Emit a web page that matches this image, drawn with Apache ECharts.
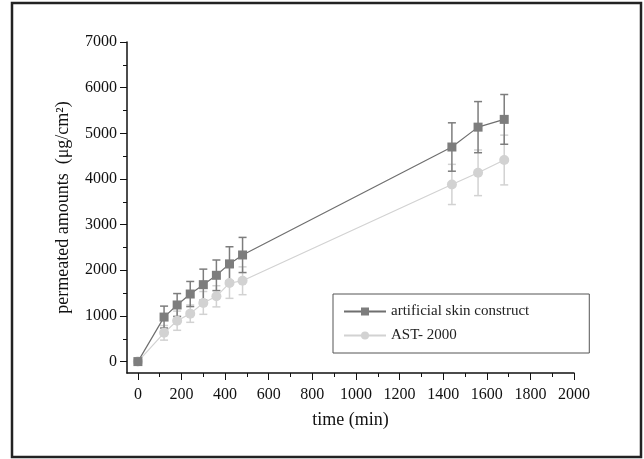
<!DOCTYPE html>
<html>
<head>
<meta charset="utf-8">
<script src="https://cdn.jsdelivr.net/npm/echarts@6/dist/echarts.min.js"></script>
<style>
  html, body { margin: 0; padding: 0; background: #fff; }
  #chart { width: 644px; height: 459px; }
</style>
</head>
<body>
<div id="chart"></div>
<script>
// sampling times (min)
const times = [0, 120, 180, 240, 300, 360, 420, 480, 1440, 1560, 1680];

// artificial skin construct
const skinMean = [0, 975, 1240, 1480, 1685, 1890, 2140, 2335, 4700, 5135, 5305];
const skinErr = [0, 240, 250, 275, 340, 335, 375, 385, 530, 560, 545];

// AST-2000
const astMean = [0, 630, 895, 1050, 1285, 1430, 1720, 1770, 3880, 4135, 4415];
const astErr = [0, 160, 210, 190, 250, 232, 335, 305, 440, 500, 545];

const xMajor = [0, 200, 400, 600, 800, 1000, 1200, 1400, 1600, 1800, 2000];
const xMinor = [100, 300, 500, 700, 900, 1100, 1300, 1500, 1700, 1900];
const yMajor = [0, 1000, 2000, 3000, 4000, 5000, 6000, 7000];
const yMinor = [500, 1500, 2500, 3500, 4500, 5500, 6500];

const FONT = '"Liberation Serif", "DejaVu Serif", serif';
const DARK = '#7d7d7d';
const LIGHT = '#d2d2d2';

const toPairs = (xs, ys) => xs.map((x, i) => [x, ys[i]]);
const toErr = (xs, ys, es) => xs.map((x, i) => [x, ys[i] - es[i], ys[i] + es[i]]);

const errorSeries = (data, color) => ({
  type: 'custom',
  data: data,
  z: 1,
  silent: true,
  renderItem: (params, api) => {
    const x = api.value(0);
    const lo = api.coord([x, api.value(1)]);
    const hi = api.coord([x, api.value(2)]);
    const cap = 4;
    const style = { stroke: color, lineWidth: 1.5 };
    return {
      type: 'group',
      children: [
        { type: 'line', shape: { x1: lo[0], y1: lo[1], x2: hi[0], y2: hi[1] }, style: style },
        { type: 'line', shape: { x1: lo[0] - cap, y1: lo[1], x2: lo[0] + cap, y2: lo[1] }, style: style },
        { type: 'line', shape: { x1: hi[0] - cap, y1: hi[1], x2: hi[0] + cap, y2: hi[1] }, style: style },
      ],
    };
  },
});

const chart = echarts.init(document.getElementById('chart'));

const axisText = { fontFamily: FONT, fontSize: 16, color: '#111' };
const nameText = { fontFamily: FONT, fontSize: 18, color: '#111' };
const plain = (v) => String(v);

const option = {
  animation: false,
  textStyle: { fontFamily: FONT },
  grid: { left: 127, right: 70, top: 42, bottom: 86 },
  legend: {
    data: ['artificial skin construct', 'AST- 2000'],
    orient: 'vertical',
    left: 333,
    top: 294,
    width: 228,
    padding: [10, 60, 10, 10],
    itemGap: 9,
    itemWidth: 42,
    itemHeight: 10,
    borderColor: '#555',
    borderWidth: 1,
    textStyle: { fontFamily: FONT, fontSize: 15, color: '#222' },
  },
  xAxis: [
    {
      type: 'value',
      min: -50,
      max: 2000,
      name: 'time (min)',
      nameLocation: 'middle',
      nameGap: 38,
      nameTextStyle: nameText,
      splitLine: { show: false },
      axisLine: { show: true, onZero: false, lineStyle: { color: '#111', width: 1.5 } },
      axisTick: { show: true, length: 7, customValues: xMajor, lineStyle: { color: '#111', width: 1 } },
      axisLabel: { customValues: xMajor, margin: 14, formatter: plain, ...axisText },
    },
    {
      type: 'value',
      min: -50,
      max: 2000,
      position: 'bottom',
      splitLine: { show: false },
      axisLine: { show: false, onZero: false },
      axisTick: { show: true, length: 4, customValues: xMinor, lineStyle: { color: '#111', width: 1 } },
      axisLabel: { show: false },
    },
  ],
  yAxis: [
    {
      type: 'value',
      min: -250,
      max: 7000,
      name: 'permeated amounts  (μg/cm²)',
      nameLocation: 'middle',
      nameGap: 55,
      nameTextStyle: nameText,
      splitLine: { show: false },
      axisLine: { show: true, onZero: false, lineStyle: { color: '#111', width: 1.5 } },
      axisTick: { show: true, length: 7, customValues: yMajor, lineStyle: { color: '#111', width: 1 } },
      axisLabel: { customValues: yMajor, margin: 10, formatter: plain, ...axisText },
    },
    {
      type: 'value',
      min: -250,
      max: 7000,
      position: 'left',
      splitLine: { show: false },
      axisLine: { show: false, onZero: false },
      axisTick: { show: true, length: 4, customValues: yMinor, lineStyle: { color: '#111', width: 1 } },
      axisLabel: { show: false },
    },
  ],
  series: [
    errorSeries(toErr(times, astMean, astErr), LIGHT),
    errorSeries(toErr(times, skinMean, skinErr), DARK),
    {
      name: 'AST- 2000',
      type: 'line',
      data: toPairs(times, astMean),
      symbol: 'circle',
      symbolSize: 10,
      z: 3,
      itemStyle: { color: LIGHT },
      lineStyle: { color: LIGHT, width: 1.2 },
    },
    {
      name: 'artificial skin construct',
      type: 'line',
      data: toPairs(times, skinMean),
      symbol: 'rect',
      symbolSize: 9,
      z: 4,
      itemStyle: { color: DARK },
      lineStyle: { color: '#6f6f6f', width: 1.2 },
    },
  ],
  graphic: [
    {
      type: 'rect',
      shape: { x: 12, y: 3, width: 629, height: 454 },
      style: { fill: 'none', stroke: '#222', lineWidth: 2.5 },
      silent: true,
    },
  ],
};

chart.setOption(option);
</script>
</body>
</html>
